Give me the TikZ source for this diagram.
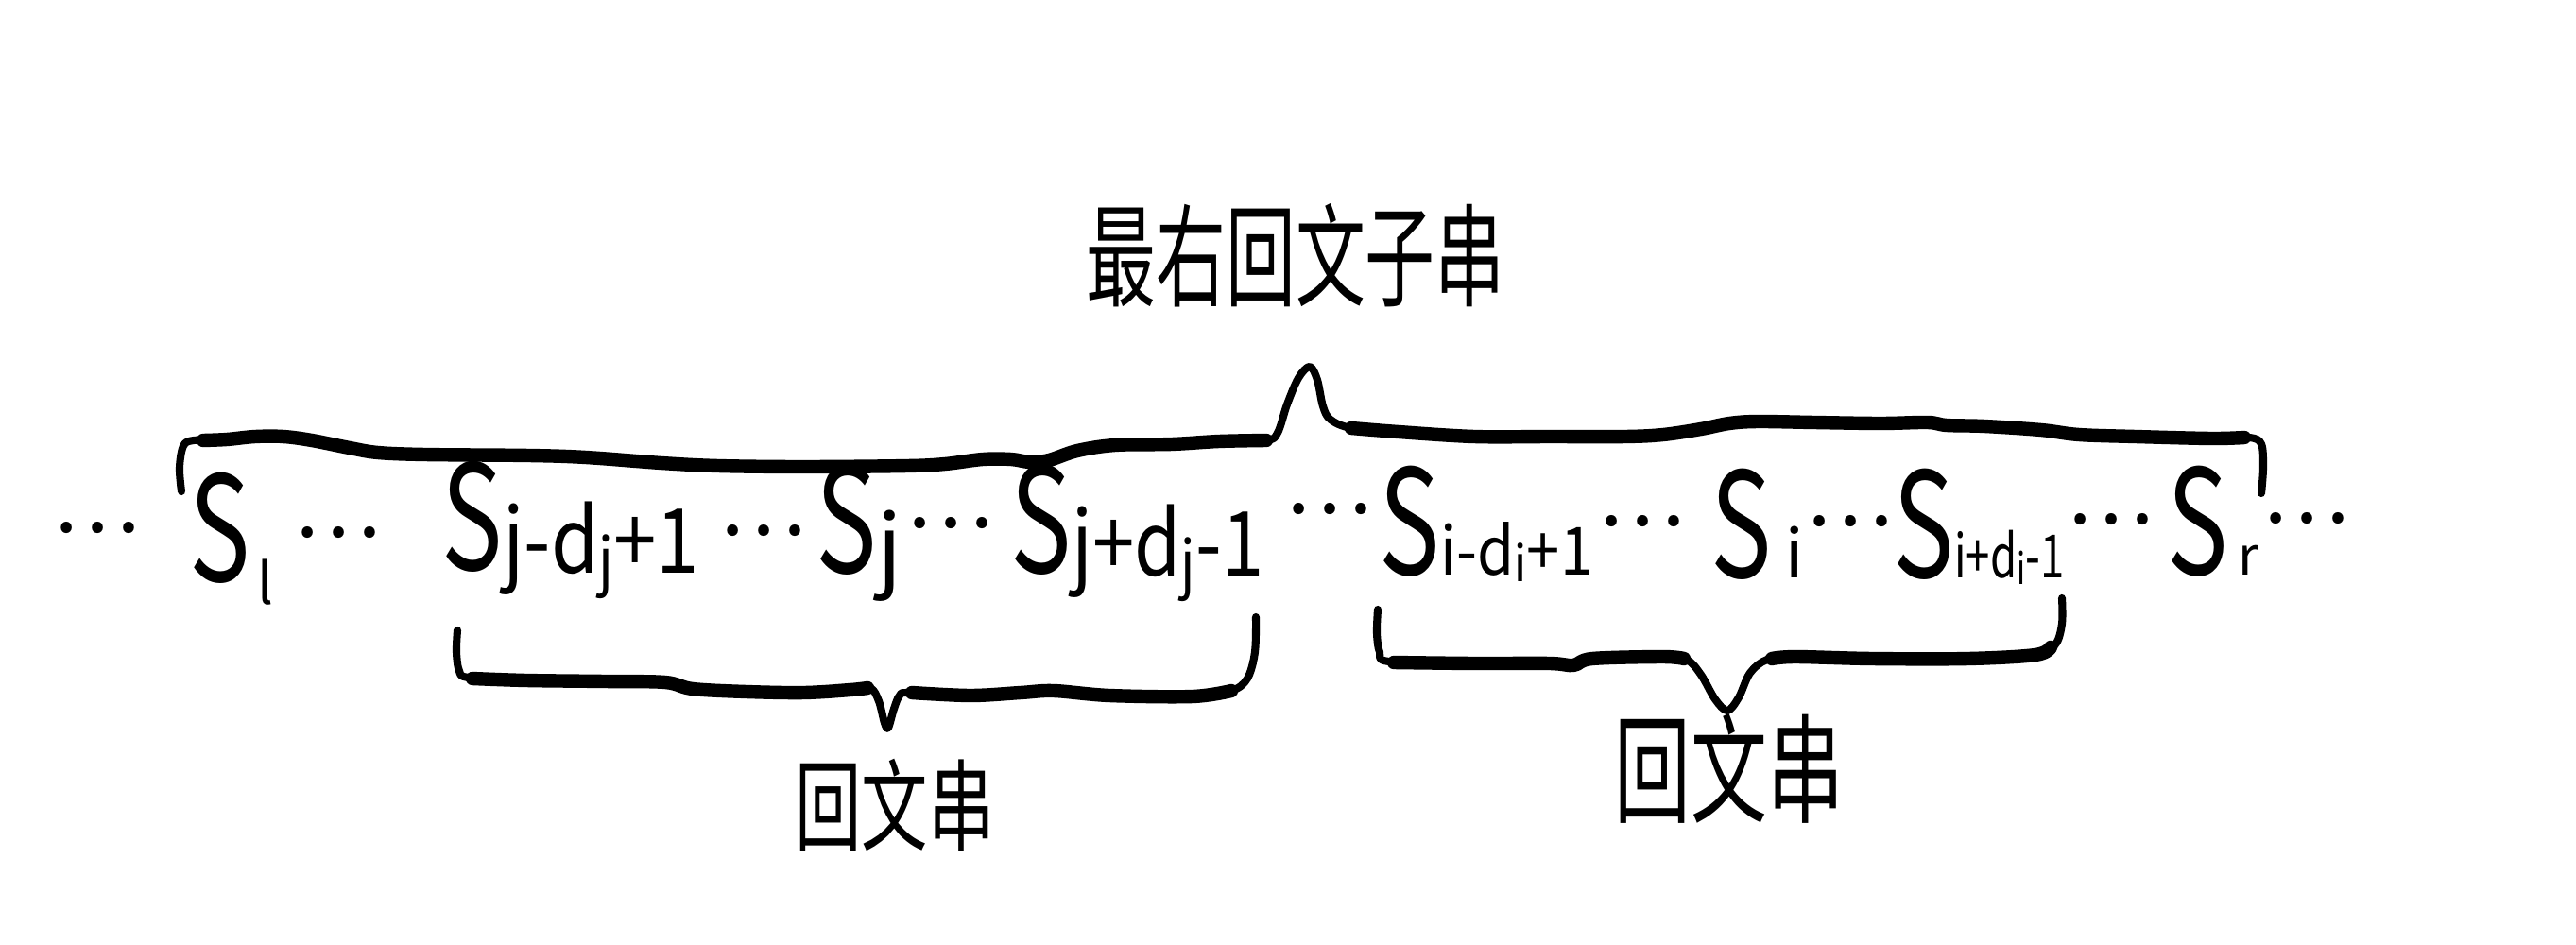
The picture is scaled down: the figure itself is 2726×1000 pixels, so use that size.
\documentclass[tikz,border=0pt]{standalone}
\usepackage{fontspec}
\setmainfont{Noto Sans CJK SC}
\newcommand{\Sbig}{\scalebox{0.7}[1]{\fontsize{44}{44}\selectfont S}}
\newcommand{\fsz}[1]{\fontsize{#1}{#1}\selectfont}
\begin{document}
\begin{tikzpicture}[x=0.01cm,y=-0.01cm]
\tikzset{
  thinbrace/.style={line width=2.3pt, line cap=round, line join=round},
  thickbrace/.style={line width=4.1pt, line cap=round, line join=round},
  term/.style={anchor=base west, inner sep=0pt},
  dotsnode/.style={anchor=base, inner sep=0pt, font=\fsz{25}},
  lbl/.style={inner sep=0pt}
}
\useasboundingbox (0,0) rectangle (2726,1000);

% title
\node[lbl] (title) at (1371,270) {\scalebox{1}[1.6]{\fsz{21}最右回文子串}};

% top brace
\draw[thinbrace] plot[smooth, tension=0.55] coordinates {
 (192,520) (190,495) (194,472) (205,466) (240,465) (270,462) (300,462) (330,466)
 (370,474) (400,479) (450,481) (560,482) (620,484) (700,490) (760,493) (850,494)
 (960,493) (1000,491) (1040,486) (1070,486) (1090,489) (1110,487) (1140,477)
 (1180,471) (1240,470) (1290,467) (1340,466) (1352,458) (1362,428) (1374,400)
 (1386,388) (1394,402) (1400,430) (1408,444) (1430,453) (1480,457) (1560,462)
 (1640,462) (1720,462) (1760,460) (1800,454) (1830,448) (1860,446) (1920,447)
 (1990,448) (2040,447) (2060,450) (2100,451) (2160,455) (2200,460) (2260,462)
 (2340,464) (2380,463) (2393,470) (2395,495) (2393,522)};
\draw[thickbrace] plot[smooth, tension=0.55] coordinates {
 (215,466) (240,465) (270,462) (300,462) (330,466)
 (370,474) (400,479) (450,481) (560,482) (620,484) (700,490) (760,493) (850,494)
 (960,493) (1000,491) (1040,486) (1070,486) (1090,489) (1110,487) (1140,477)
 (1180,471) (1240,470) (1290,467) (1340,466)};
\draw[thickbrace] plot[smooth, tension=0.55] coordinates {
 (1430,453) (1480,457) (1560,462)
 (1640,462) (1720,462) (1760,460) (1800,454) (1830,448) (1860,446) (1920,447)
 (1990,448) (2040,447) (2060,450) (2100,451) (2160,455) (2200,460) (2260,462)
 (2340,464) (2375,463)};

% row of terms
\node[dotsnode] (d1) at (102,563) {⋯};
\node[term] (tl) at (200,615) {\Sbig\hspace{2pt}\raisebox{-7pt}{\fsz{17}l}};
\node[dotsnode] (d2) at (357,568) {⋯};
\node[term] (ta) at (467,603) {\Sbig\raisebox{-1pt}{\scalebox{0.86}[1]{\fsz{27}j-d\raisebox{-3pt}{\fsz{19}j}+1}}};
\node[dotsnode] (d3) at (807,566) {⋯};
\node[term] (tb) at (863,606) {\Sbig\raisebox{-2pt}{\fsz{27}j}};
\node[dotsnode] (d4) at (1005,558) {⋯};
\node[term] (tc) at (1069,606) {\Sbig\raisebox{-1pt}{\scalebox{0.84}[1]{\fsz{27}j+d\raisebox{-3pt}{\fsz{19}j}-1}}};
\node[dotsnode] (d5) at (1406,543) {⋯};
\node[term] (td) at (1459,608) {\Sbig\scalebox{0.9}[1]{\fsz{20}i-d\raisebox{-2pt}{\fsz{15}i}+1}};
\node[dotsnode] (d6) at (1737,556) {⋯};
\node[term] (te) at (1810,611) {\Sbig\hspace{4pt}{\fsz{20}i}};
\node[dotsnode] (d7) at (1957,556) {⋯};
\node[term] (tf) at (2003,611) {\Sbig\scalebox{0.72}[1]{\fsz{18}i+d\raisebox{-2pt}{\fsz{13}i}-1}};
\node[dotsnode] (d8) at (2233,554) {⋯};
\node[term] (tg) at (2293,608) {\Sbig\hspace{3pt}{\fsz{16}r}};
\node[dotsnode] (d9) at (2440,553) {⋯};

% left lower brace
\draw[thinbrace] plot[smooth, tension=0.55] coordinates {
 (484,667) (483,690) (486,710) (496,717) (557,720) (640,721) (704,722) (733,729)
 (790,732) (851,733) (900,730) (921,728) (930,742) (936,765) (940,770) (946,750)
 (952,736) (962,733) (1027,736) (1080,733) (1115,731) (1174,736) (1262,737)
 (1303,731) (1320,718) (1328,690) (1329,653)};
\draw[thickbrace] plot[smooth, tension=0.55] coordinates {
 (500,718) (557,720) (640,721) (704,722) (733,729) (790,732) (851,733) (900,730) (918,728)};
\draw[thickbrace] plot[smooth, tension=0.55] coordinates {
 (965,733) (1027,736) (1080,733) (1115,731) (1174,736) (1262,737) (1303,731)};
\node[lbl] (lbl1) at (947,852) {\scalebox{1}[1.5]{\fsz{20}回文串}};

% right lower brace
\draw[thinbrace] plot[smooth, tension=0.55] coordinates {
 (1458,645) (1457,670) (1460,690) (1470,700) (1560,702) (1640,702) (1665,704)
 (1685,697) (1760,695) (1785,698) (1800,714) (1815,740) (1828,752) (1840,738)
 (1852,712) (1870,698) (1900,695) (1981,697) (2083,697) (2154,693) (2175,682)
 (2182,660) (2182,633)};
\draw[thickbrace] plot[smooth, tension=0.55] coordinates {
 (1475,701) (1560,702) (1640,702) (1665,704) (1685,697) (1760,695) (1782,697)};
\draw[thickbrace] plot[smooth, tension=0.55] coordinates {
 (1875,697) (1900,695) (1981,697) (2083,697) (2154,693) (2170,685)};
\node[lbl] (lbl2) at (1830,813) {\scalebox{1}[1.55]{\fsz{23}回文串}};
\end{tikzpicture}
\end{document}
